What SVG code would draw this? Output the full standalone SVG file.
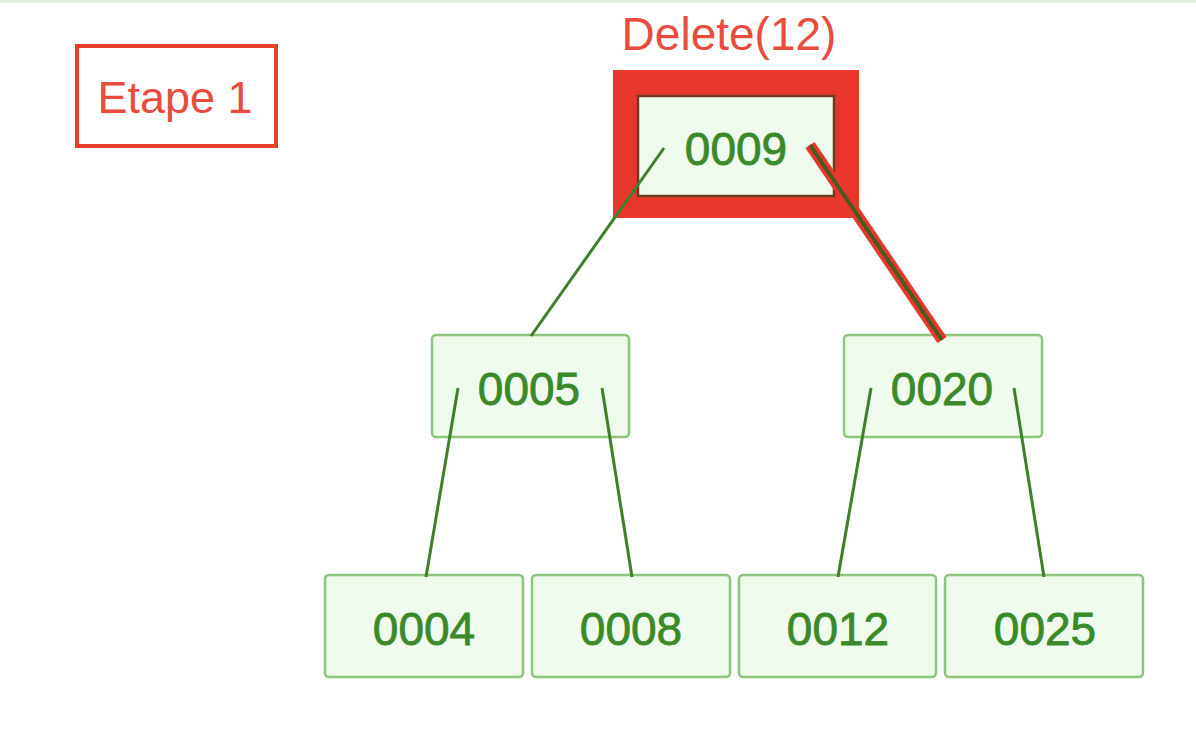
<svg xmlns="http://www.w3.org/2000/svg" width="1196" height="752" viewBox="0 0 1196 752">
<style>
.node rect.box{fill:#effbec;stroke:#8dc47e;stroke-width:2.5}
.lbl{font-family:"Liberation Sans",Arial,sans-serif;font-size:46px;fill:#3a8a2a;stroke:#3a8a2a;stroke-width:0.8;text-anchor:middle}
.edge{stroke:#3f7f2a;stroke-width:3;fill:none}
.red{font-family:"Liberation Sans",Arial,sans-serif;fill:#e94b3c;text-anchor:middle}
</style>
<rect x="0" y="0" width="1196" height="752" fill="#ffffff"/>
<rect x="0" y="0" width="1196" height="2.5" fill="#dfecdb"/>
<g id="etape">
<rect x="77" y="46" width="199" height="100" fill="none" stroke="#e8402a" stroke-width="4"/>
<text class="red" x="175" y="113" font-size="45">Etape 1</text>
</g>
<g id="title">
<text class="red" x="729" y="50" font-size="46">Delete(12)</text>
</g>
<g id="n0009" class="node">
<rect x="613" y="70" width="246" height="148" fill="#e8372a"/>
<rect x="638" y="96" width="196" height="100" fill="#effbec" stroke="#6a3b20" stroke-width="2.5"/>
<text class="lbl" x="736" y="165">0009</text>
</g>
<g id="n0005" class="node">
<rect class="box" x="432" y="335" width="197" height="102" rx="4"/>
<text class="lbl" x="529" y="405">0005</text>
</g>
<g id="n0020" class="node">
<rect class="box" x="844" y="335" width="198" height="102" rx="4"/>
<text class="lbl" x="942" y="405">0020</text>
</g>
<g id="n0004" class="node">
<rect class="box" x="325" y="575" width="198" height="102" rx="4"/>
<text class="lbl" x="424" y="645">0004</text>
</g>
<g id="n0008" class="node">
<rect class="box" x="532" y="575" width="198" height="102" rx="4"/>
<text class="lbl" x="631" y="645">0008</text>
</g>
<g id="n0012" class="node">
<rect class="box" x="739" y="575" width="197" height="102" rx="4"/>
<text class="lbl" x="838" y="645">0012</text>
</g>
<g id="n0025" class="node">
<rect class="box" x="945" y="575" width="198" height="102" rx="4"/>
<text class="lbl" x="1045" y="645">0025</text>
</g>
<g id="connectors">
<line x1="810" y1="145" x2="942" y2="340" stroke="#e8372a" stroke-width="11"/>
<line x1="810" y1="145" x2="942" y2="340" stroke="#4a5a1f" stroke-width="4"/>
<line class="edge" x1="664" y1="148" x2="531" y2="336"/>
<line class="edge" x1="458" y1="388" x2="426" y2="577"/>
<line class="edge" x1="602" y1="388" x2="632" y2="577"/>
<line class="edge" x1="871" y1="388" x2="838" y2="577"/>
<line class="edge" x1="1014" y1="388" x2="1044" y2="577"/>
</g>
</svg>
